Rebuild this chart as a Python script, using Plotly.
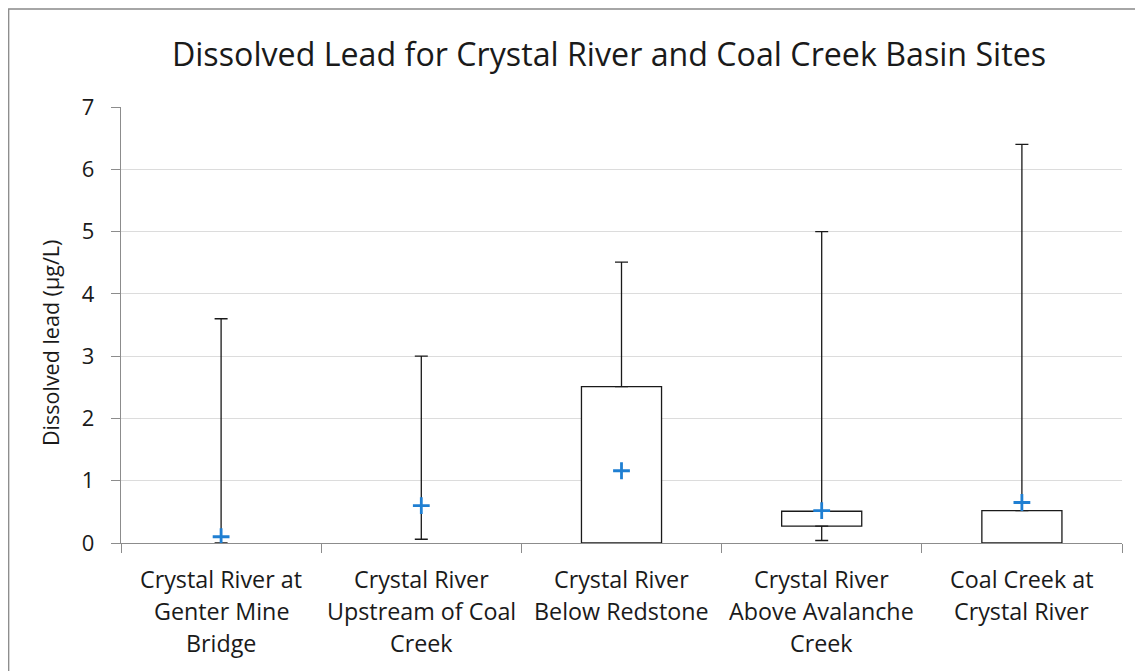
import plotly.graph_objects as go

sites = ["Site1", "Site2", "Site3", "Site4", "Site5"]
label_lines = [
    ["Crystal River at", "Genter Mine", "Bridge"],
    ["Crystal River", "Upstream of Coal", "Creek"],
    ["Crystal River", "Below Redstone"],
    ["Crystal River", "Above Avalanche", "Creek"],
    ["Coal Creek at", "Crystal River"],
]
q1 = [0.0, 0.06, 0.0, 0.27, 0.0]
median = [None, None, 0.51, 0.27, 0.0]
q3 = [0.0, 0.06, 2.51, 0.51, 0.52]
minimum = [None, None, None, 0.04, None]
maximum = [3.6, 3.0, 4.51, 5.0, 6.4]
mean = [0.10, 0.60, 1.16, 0.52, 0.65]

FONT = "Open Sans"
TXT = "#1a1a1a"
AX = "#8c8c8c"

# page offset of the figure (body margin)
OFF = 8
PL, PR, PT, PB = 121, 1122, 107, 543  # plot area in page pixels
PW, PH = PR - PL, PB - PT

fig = go.Figure()

box_h = [(b - a) if (b - a) > 0 else None for a, b in zip(q1, q3)]
fig.add_trace(go.Bar(
    x=sites, y=box_h, base=q1, width=0.4,
    marker=dict(color="white", line=dict(color="#1a1a1a", width=1.3)),
    hoverinfo="skip", showlegend=False,
))

fig.add_trace(go.Scatter(
    x=sites, y=q3, mode="markers", marker=dict(size=0.1, color="rgba(0,0,0,0)"),
    error_y=dict(type="data", symmetric=False,
                 array=[mx - b for mx, b in zip(maximum, q3)],
                 arrayminus=[0] * len(sites),
                 color="#1a1a1a", thickness=1.3, width=6.5),
    hoverinfo="skip", showlegend=False,
))

lw_x = [s for s, m in zip(sites, minimum) if m is not None]
lw_y = [a for a, m in zip(q1, minimum) if m is not None]
lw_minus = [a - m for a, m in zip(q1, minimum) if m is not None]
fig.add_trace(go.Scatter(
    x=lw_x, y=lw_y, mode="markers", marker=dict(size=0.1, color="rgba(0,0,0,0)"),
    error_y=dict(type="data", symmetric=False, array=[0] * len(lw_x),
                 arrayminus=lw_minus, color="#1a1a1a", thickness=1.3, width=6.5),
    hoverinfo="skip", showlegend=False,
))

md_x = [s for s, m in zip(sites, median) if m is not None]
md_y = [m for m in median if m is not None]
fig.add_trace(go.Scatter(
    x=md_x, y=md_y, mode="markers", marker=dict(size=0.1, color="rgba(0,0,0,0)"),
    error_x=dict(type="constant", value=0.2, color="#1a1a1a", thickness=1.3, width=0),
    hoverinfo="skip", showlegend=False,
))

fig.add_trace(go.Scatter(
    x=sites, y=mean, mode="markers",
    marker=dict(symbol="cross-thin", size=12, line=dict(color="#1f7fd2", width=2.8)),
    showlegend=False,
))

for s, lines in zip(sites, label_lines):
    for i, ln in enumerate(lines):
        fig.add_annotation(x=s, xref="x", y=0, yref="paper", yanchor="middle",
                           yshift=-36 - 32 * i, text=ln, showarrow=False,
                           font=dict(family=FONT, size=23.3, color=TXT))

fig.add_annotation(x=(50 - PL) / PW, xref="paper", xanchor="center",
                   y=(PB - 343) / PH, yref="paper", yanchor="middle",
                   text="Dissolved lead (µg/L)", textangle=-90, showarrow=False,
                   font=dict(family=FONT, size=21.5, color=TXT))

fig.add_shape(type="rect", xref="paper", yref="paper",
              x0=(8.7 - PL) / PW, x1=(1148 - PL) / PW,
              y0=(PB - 700) / PH, y1=(PB - 9) / PH,
              line=dict(color="#898989", width=1.3), fillcolor="rgba(0,0,0,0)")

W, H = 1143, 671
fig.update_layout(
    width=W, height=H,
    margin=dict(l=PL - OFF, r=W - (PR - OFF), t=PT - OFF, b=H - (PB - OFF)),
    paper_bgcolor="white", plot_bgcolor="white",
    title=dict(text="Dissolved Lead for Crystal River and Coal Creek Basin Sites",
               x=(609 - OFF) / W, xref="container", xanchor="center",
               y=1 - (55 - OFF) / H, yref="container", yanchor="middle",
               font=dict(family=FONT, size=32.2, color=TXT)),
    font=dict(family=FONT, color=TXT),
)
fig.update_xaxes(type="category", categoryorder="array", categoryarray=sites,
                 range=[-0.5, 4.5], showticklabels=False,
                 showline=True, linecolor=AX, linewidth=1.3,
                 ticks="outside", tickson="boundaries", ticklen=9, tickcolor=AX,
                 tickwidth=1.3, showgrid=False, zeroline=False)
fig.update_yaxes(range=[0, 7], dtick=1, showline=True, linecolor=AX, linewidth=1.3,
                 ticks="outside", ticklen=9, tickcolor=AX, tickwidth=1.3,
                 showgrid=True, gridcolor="#dcdcdc", gridwidth=1.2, zeroline=False,
                 tickfont=dict(family=FONT, size=22, color=TXT),
                 ticklabelstandoff=12)

fig.write_html("out.html")
